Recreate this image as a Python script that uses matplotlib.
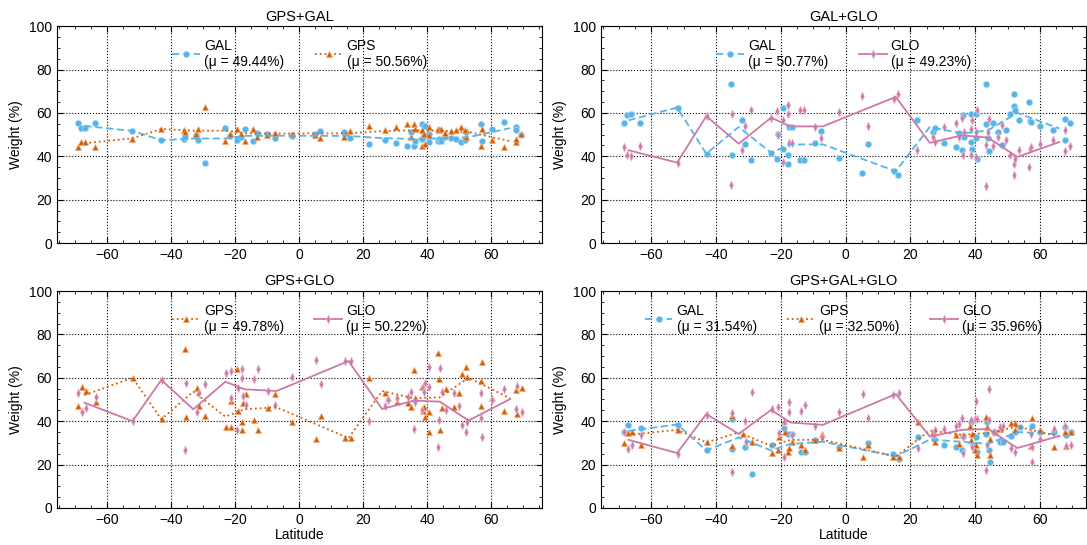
import matplotlib
matplotlib.use('Agg')
import matplotlib.pyplot as plt
from matplotlib.lines import Line2D
from matplotlib.ticker import MultipleLocator

plt.rcParams['font.family'] = ['Liberation Sans', 'DejaVu Sans']
plt.rcParams['font.size'] = 10

# latitudes where the connecting (binned) lines have vertices
bin_lat = [-67, -52, -43, -33, -23, -17, -7, 15.5, 26, 36, 44, 53, 66]

# --- GPS+GAL ---
tl_lat = [-69.1, -68.0, -66.7, -63.7, -52.2, -43.1, -35.8, -35.5, -32.2, -31.4,
          -29.4, -23.0, -21.5, -19.4, -18.0, -16.8, -14.2, -13.0, -9.9, -7.6,
          -2.3, 5.0, 6.5, 14.1, 16.1, 21.8, 26.8, 30.3, 33.9, 34.9,
          35.8, 36.2, 38.4, 38.6, 39.0, 39.3, 40.5, 40.7, 43.4, 43.8,
          44.5, 45.7, 47.6, 49.0, 50.7, 52.0, 52.2, 56.8, 57.1, 60.3,
          64.0, 67.7, 67.8, 69.4]
tl_gal = [55.5, 53.2, 52.9, 55.5, 51.7, 47.4, 48.0, 48.9, 49.8, 47.7,
          37.1, 52.9, 49.5, 47.7, 48.9, 52.6, 46.9, 50.9, 50.2, 48.6,
          49.4, 50.3, 51.5, 51.1, 48.5, 45.5, 47.4, 46.2, 44.9, 51.1,
          44.9, 47.2, 48.0, 55.1, 49.8, 53.8, 46.5, 50.3, 47.2, 48.0,
          47.2, 49.1, 48.3, 48.0, 46.5, 47.7, 51.1, 55.1, 47.2, 52.6,
          55.8, 53.4, 52.2, 49.8]
tl_gps = [44.3, 46.6, 46.6, 44.3, 48.2, 52.5, 52.0, 51.1, 50.2, 52.5,
          62.8, 46.9, 50.5, 52.5, 50.5, 47.1, 52.8, 48.9, 49.8, 50.9,
          50.5, 49.7, 48.6, 48.9, 51.5, 54.2, 52.3, 53.5, 54.8, 48.9,
          55.1, 52.8, 52.0, 44.6, 50.2, 45.8, 53.5, 49.7, 52.8, 52.0,
          52.8, 50.9, 51.7, 52.0, 53.5, 52.3, 48.9, 44.8, 52.8, 47.4,
          44.3, 46.6, 47.8, 50.2]
tl_gal_line = [54.0, 51.7, 47.4, 48.2, 48.2, 49.4, 49.5, 49.4, 48.4, 48.0, 48.2, 48.8, 53.0]
tl_gps_line = [46.0, 48.3, 52.6, 51.8, 51.8, 50.6, 50.5, 50.6, 51.6, 52.0, 51.8, 51.2, 47.0]

# --- GAL+GLO ---
tr_lat = [-68.5, -67.5, -66.3, -63.4, -51.8, -42.9, -35.4, -35.0, -32.0, -31.0,
          -29.2, -23.0, -21.2, -21.0, -19.4, -19.2, -17.9, -17.7, -17.5, -16.6,
          -14.0, -12.8, -9.5, -7.5, -2.1, 5.2, 6.8, 14.8, 16.1, 22.0,
          26.9, 27.5, 30.3, 34.0, 35.0, 36.0, 36.2, 36.5, 38.6, 38.8,
          39.1, 40.2, 40.4, 40.5, 43.3, 43.5, 44.1, 44.3, 45.5, 47.2,
          48.2, 49.5, 50.7, 51.9, 52.1, 52.3, 53.6, 56.7, 56.9, 57.2,
          60.1, 64.0, 67.6, 67.8, 69.2]
tr_gal = [55.5, 59.2, 59.5, 55.4, 62.5, 41.2, 73.2, 40.5, 56.6, 45.8,
          38.5, 41.7, 38.9, 50.3, 43.5, 62.5, 36.3, 40.5, 53.5, 53.5,
          38.2, 38.2, 46.2, 51.5, 39.4, 32.3, 45.5, 33.1, 31.5, 56.9,
          51.1, 53.2, 46.2, 44.3, 50.8, 42.8, 58.9, 48.9, 46.6, 59.7,
          43.5, 48.5, 59.7, 38.9, 54.8, 73.5, 48.6, 42.5, 55.4, 51.2,
          45.4, 52.3, 59.4, 68.9, 63.1, 61.2, 56.9, 65.1, 56.3, 55.8,
          53.8, 52.3, 57.4, 47.4, 55.4]
tr_glo = [44.3, 40.5, 40.2, 44.6, 37.1, 58.5, 26.6, 59.4, 43.1, 53.8,
          61.5, 57.8, 60.9, 49.7, 56.6, 37.4, 63.5, 59.4, 46.2, 46.2,
          61.5, 61.5, 53.5, 48.5, 60.5, 67.7, 54.0, 66.6, 68.6, 43.1,
          48.9, 46.6, 53.5, 55.4, 48.9, 57.8, 40.8, 51.2, 52.8, 40.5,
          56.6, 51.2, 39.7, 61.2, 45.2, 26.3, 51.2, 57.4, 44.6, 48.9,
          54.3, 47.4, 40.5, 31.2, 36.6, 38.9, 43.1, 35.1, 43.5, 44.3,
          45.8, 47.7, 42.5, 52.3, 44.6]
tr_gal_line = [56.6, 62.5, 41.2, 53.5, 41.7, 45.5, 45.5, 33.1, 53.5, 50.5, 52.0, 60.0, 52.8]
tr_glo_line = [42.8, 37.1, 58.5, 45.8, 57.8, 53.8, 53.8, 67.4, 46.2, 49.7, 48.6, 39.7, 46.6]

# --- GPS+GLO ---
bl_lat = [-68.9, -67.8, -66.5, -63.5, -51.9, -42.9, -35.6, -35.2, -32.0, -31.2,
          -29.2, -22.9, -21.3, -21.1, -19.2, -19.0, -17.9, -17.8, -17.5, -16.6,
          -14.0, -12.8, -9.7, -7.4, -2.1, 5.2, 6.8, 14.5, 16.3, 22.0,
          27.0, 27.7, 30.5, 34.1, 35.1, 36.1, 36.4, 38.6, 38.9, 39.2,
          39.5, 40.5, 40.7, 43.5, 43.7, 44.1, 44.7, 45.9, 48.3, 49.9,
          50.9, 52.2, 52.4, 56.8, 57.0, 57.3, 60.4, 64.2, 67.9, 68.0,
          69.6]
bl_gps = [47.0, 55.6, 54.1, 48.7, 60.0, 40.9, 73.5, 42.1, 55.4, 47.0,
          42.6, 37.5, 37.1, 49.3, 63.9, 44.9, 39.8, 35.7, 48.2, 52.5,
          40.6, 35.7, 45.9, 52.5, 39.5, 31.7, 42.4, 32.2, 32.2, 59.7,
          53.1, 50.5, 49.0, 48.5, 46.4, 63.6, 50.5, 55.6, 44.7, 46.4,
          42.1, 34.8, 44.1, 71.5, 59.4, 35.7, 46.2, 54.7, 46.7, 52.8,
          61.7, 65.1, 60.5, 47.0, 58.5, 67.1, 50.5, 44.9, 54.4, 43.3,
          55.4]
bl_glo = [52.8, 44.4, 45.9, 51.0, 40.0, 59.0, 26.5, 57.7, 44.4, 52.8,
          57.1, 62.0, 63.1, 50.5, 36.0, 55.1, 60.0, 63.9, 51.6, 47.5,
          59.3, 63.9, 53.9, 47.5, 60.2, 68.1, 57.1, 67.7, 67.7, 40.1,
          47.0, 49.8, 50.8, 51.3, 53.3, 36.4, 49.0, 45.2, 55.1, 53.6,
          57.4, 64.8, 55.9, 28.3, 40.6, 64.3, 53.6, 45.2, 53.1, 47.0,
          38.3, 34.9, 39.5, 52.8, 41.3, 32.9, 49.8, 54.7, 45.5, 56.2,
          44.4]
bl_gps_line = [52.0, 60.0, 40.9, 53.6, 42.1, 45.5, 46.4, 32.2, 53.9, 50.5, 51.0, 60.0, 50.5]
bl_glo_line = [48.5, 40.0, 59.0, 45.5, 58.2, 54.7, 53.9, 67.7, 45.6, 49.5, 49.0, 40.3, 50.2]

# --- GPS+GAL+GLO ---
br_gal_lat = [-68.3, -67.3, -63.1, -51.6, -42.7, -35.2, -35.2, -31.1, -29.0, -22.8,
              -18.9, -17.8, -16.6, -13.8, -12.6, -9.3, -2.1, 7.0, 14.5, 16.4,
              22.3, 27.4, 30.5, 34.2, 36.0, 36.2, 38.8, 39.3, 40.4, 40.6,
              43.5, 43.7, 44.3, 44.5, 45.8, 47.8, 48.7, 51.0, 52.3, 53.8,
              57.5, 60.0, 64.2, 67.8, 68.0, 69.6]
br_gal = [35.2, 38.3, 36.8, 38.3, 26.5, 40.9, 27.1, 28.0, 15.8, 29.1,
          36.8, 34.1, 34.1, 26.0, 26.0, 31.4, 28.3, 29.9, 24.8, 22.5,
          32.9, 31.7, 29.1, 27.9, 26.8, 33.2, 39.8, 28.8, 32.6, 26.0,
          34.1, 39.8, 26.8, 21.0, 34.8, 30.2, 30.6, 33.2, 35.2, 37.5,
          37.8, 35.2, 35.2, 37.5, 33.7, 35.2]
br_gps_lat = [-68.3, -67.3, -66.0, -63.1, -51.6, -42.7, -35.2, -35.2, -31.6, -29.0,
              -22.8, -21.0, -20.7, -18.9, -18.8, -17.8, -17.6, -16.4, -13.8, -12.6,
              -9.3, -7.2, -2.1, 5.4, 7.0, 14.5, 16.4, 22.3, 26.9, 27.7,
              34.2, 35.0, 36.2, 38.3, 38.8, 39.1, 39.9, 40.4, 40.6, 43.5,
              43.7, 44.5, 44.7, 46.1, 47.8, 51.0, 52.3, 52.3, 57.1, 57.5,
              60.0, 64.2, 67.8, 68.0, 69.6]
br_gps = [29.9, 34.5, 34.8, 29.1, 36.0, 30.2, 28.6, 42.4, 34.1, 30.2,
          25.3, 26.5, 32.6, 40.3, 34.8, 25.6, 27.6, 30.6, 29.1, 26.5,
          31.1, 34.1, 27.6, 23.4, 28.8, 23.4, 23.4, 39.4, 34.8, 30.3,
          33.7, 29.4, 33.7, 37.8, 31.4, 34.1, 26.8, 29.1, 24.5, 41.8,
          37.5, 31.7, 24.5, 34.8, 36.3, 39.1, 36.0, 39.1, 28.6, 41.3,
          36.0, 28.0, 34.8, 28.6, 35.2]
br_glo_lat = [-68.3, -67.3, -66.0, -63.1, -51.6, -42.7, -35.2, -35.2, -31.1, -30.8,
              -29.0, -22.8, -21.0, -20.7, -18.9, -18.9, -17.6, -17.6, -16.4, -13.8,
              -12.6, -9.3, -7.2, -2.1, 5.4, 7.0, 14.5, 16.4, 22.3, 27.4,
              27.7, 30.5, 34.2, 35.0, 36.0, 36.2, 36.4, 38.8, 39.1, 39.9,
              40.4, 40.6, 43.5, 43.7, 44.3, 44.3, 45.8, 47.8, 48.7, 51.0,
              52.3, 57.1, 57.5, 57.5, 60.0, 64.2, 67.8, 68.0, 69.6]
br_glo = [34.8, 27.1, 29.1, 33.7, 25.0, 42.9, 43.6, 16.4, 40.1, 30.2,
          53.3, 45.6, 46.4, 34.5, 23.3, 39.8, 48.7, 44.4, 33.7, 44.9,
          47.5, 38.0, 32.9, 44.0, 52.5, 41.3, 52.1, 53.1, 27.6, 33.7,
          36.0, 36.4, 38.0, 38.6, 41.3, 32.9, 25.3, 40.6, 28.3, 40.9,
          49.5, 40.9, 17.6, 29.1, 54.7, 40.6, 35.2, 37.5, 37.8, 27.6,
          25.6, 34.1, 21.0, 28.3, 31.7, 36.3, 37.8, 28.6, 29.1]
br_gal_line = [35.5, 38.5, 26.5, 32.5, 26.5, 29.5, 30.5, 23.8, 31.5, 30.5, 29.5, 35.0, 34.0]
br_gps_line = [33.7, 36.0, 30.2, 34.8, 28.6, 31.4, 31.4, 23.7, 35.7, 33.7, 34.5, 37.5, 32.9]
br_glo_line = [31.4, 25.3, 43.3, 34.1, 45.2, 39.4, 38.3, 52.5, 32.9, 36.0, 36.4, 27.6, 33.2]

# narrow diamond marker for GLO
thin_diamond = [(-0.45, 0), (0, 1), (0.45, 0), (0, -1), (-0.45, 0)]

# colour / marker / line style per constellation
style = {
    'GAL': dict(color='#56B4E9', edge='#a9dcf6', marker='o', ls=(0, (4, 2)), ms=4.5),
    'GPS': dict(color='#D55E00', edge='#f0a878', marker='^', ls=':', ms=5),
    'GLO': dict(color='#CC79A7', edge='#ebbfd9', marker=thin_diamond, ls='-', ms=6.5),
}

fig, axes = plt.subplots(2, 2, figsize=(10.87, 5.45), dpi=100)
fig.subplots_adjust(left=0.0524, right=0.999, top=0.952, bottom=0.068,
                    wspace=0.122, hspace=0.221)

panels = [
    (axes[0, 0], 'GPS+GAL', [('GAL', tl_lat, tl_gal, tl_gal_line, '49.44'),
                             ('GPS', tl_lat, tl_gps, tl_gps_line, '50.56')]),
    (axes[0, 1], 'GAL+GLO', [('GAL', tr_lat, tr_gal, tr_gal_line, '50.77'),
                             ('GLO', tr_lat, tr_glo, tr_glo_line, '49.23')]),
    (axes[1, 0], 'GPS+GLO', [('GPS', bl_lat, bl_gps, bl_gps_line, '49.78'),
                             ('GLO', bl_lat, bl_glo, bl_glo_line, '50.22')]),
    (axes[1, 1], 'GPS+GAL+GLO', [('GAL', br_gal_lat, br_gal, br_gal_line, '31.54'),
                                 ('GPS', br_gps_lat, br_gps, br_gps_line, '32.50'),
                                 ('GLO', br_glo_lat, br_glo, br_glo_line, '35.96')]),
]

for i, (ax, title, series) in enumerate(panels):
    handles = []
    for name, lat, vals, line, mu in series:
        st = style[name]
        ax.plot(lat, vals, ls='none', marker=st['marker'], ms=st['ms'],
                color=st['color'], mec=st['edge'], mew=0.5, zorder=3)
        ax.plot(bin_lat, line, ls=st['ls'], lw=1.3, color=st['color'], zorder=4)
        handles.append(Line2D([], [], color=st['color'], ls=st['ls'], lw=1.3,
                              marker=st['marker'], ms=st['ms'], mec=st['edge'], mew=0.5,
                              label=f'{name}\n(\u03bc = {mu}%)'))
    ax.legend(handles=handles, loc='upper center', ncol=len(handles), frameon=False,
              handlelength=2.0, handletextpad=0.3, columnspacing=2.2, fontsize=10)
    ax.set_title(title, fontsize=10.5, pad=4)
    ax.set_ylim(0, 100)
    # right column is a touch narrower in the original
    if i % 2 == 0:
        ax.set_xlim(-75.6, 75.9)
    else:
        ax.set_xlim(-75.5, 74.2)
    ax.xaxis.set_major_locator(MultipleLocator(20))
    ax.xaxis.set_minor_locator(MultipleLocator(5))
    ax.yaxis.set_major_locator(MultipleLocator(20))
    ax.yaxis.set_minor_locator(MultipleLocator(5))
    ax.tick_params(which='both', direction='in', top=True, right=True, labelsize=10)
    ax.tick_params(which='major', length=4)
    ax.tick_params(which='minor', length=2)
    ax.grid(True, which='major', color='k', ls=':', lw=0.8)
    ax.set_ylabel('Weight (%)')
    if i >= 2:
        ax.set_xlabel('Latitude', labelpad=1)

plt.savefig('out.png', dpi=100)
